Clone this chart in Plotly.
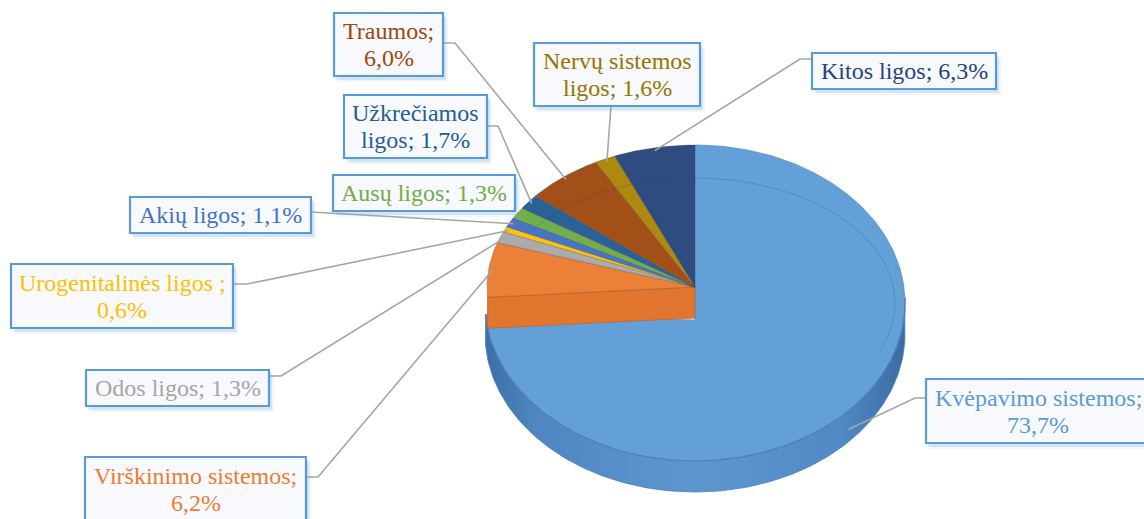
import math
import plotly.graph_objects as go

# ---------------- data ----------------
categories = ["Kvėpavimo sistemos", "Virškinimo sistemos", "Odos ligos",
              "Urogenitalinės ligos ", "Akių ligos", "Ausų ligos",
              "Užkrečiamos ligos", "Traumos", "Nervų sistemos ligos", "Kitos ligos"]
shares = [73.7, 6.2, 1.3, 0.6, 1.1, 1.3, 1.7, 6.0, 1.6, 6.3]
label_lines = [
    ["Kvėpavimo sistemos;", "{p}"],
    ["Virškinimo sistemos;", "{p}"],
    ["Odos ligos; {p}"],
    ["Urogenitalinės ligos ;", "{p}"],
    ["Akių ligos; {p}"],
    ["Ausų ligos; {p}"],
    ["Užkrečiamos", "ligos; {p}"],
    ["Traumos;", "{p}"],
    ["Nervų sistemos", "ligos; {p}"],
    ["Kitos ligos; {p}"],
]

# ---------------- styles ----------------
slice_colors = ["#64A0D8", "#EC8037", "#ABABAB", "#FFC20E", "#4775C6", "#72AE4B",
                "#2A6298", "#A24F18", "#AE8910", "#2F4C80"]
text_colors = ["#5B9BD5", "#ED7D31", "#A5A5A5", "#FFC000", "#4472C4", "#70AD47",
               "#255E91", "#9E480E", "#997300", "#264478"]
FONT = "Liberation Serif, Times New Roman, serif"
FS = 24
LINE_GAP = 27

# label box geometry (pixels): x0, y0, x1, y1
boxes = [(926, 379, 1150, 443), (85, 457, 306, 521), (86, 370, 269, 406),
         (11, 264, 233, 328), (130, 197, 311, 233), (333, 175, 515, 211),
         (344, 95, 487, 158), (334, 13, 443, 76), (534, 43, 700, 106),
         (812, 53, 996, 89)]
leader_start = [[(926, 398), (915, 398)], [(306, 477), (318, 477)],
                [(269, 376), (281, 376)], [(233, 284), (247, 284)],
                [(311, 212)], None, [(487, 126), (498, 126)],
                [(443, 43), (455, 43)], [(611, 106)], [(812, 59), (800, 59)]]

# pie projection
FRONT_C, FRONT_RX, FRONT_RY = (695, 303), 210, 158
FRONT_APEX = (695, 320)
BACK_C, BACK_RX, BACK_RY = (695, 287), 208, 142
DEPTH = 31

W, H = 1144, 519


def ell(c, rx, ry, th, dy=0.0, k=1.0):
    t = math.radians(th)
    return (c[0] + k * rx * math.sin(t), c[1] - k * ry * math.cos(t) + dy)


def arc(c, rx, ry, a, b, dy=0.0, k=1.0):
    n = max(4, int(abs(b - a) / 1.0))
    return [ell(c, rx, ry, a + (b - a) * i / n, dy, k) for i in range(n + 1)]


def poly(pts, fill, line="rgba(0,0,0,0)", lw=0.0, **kw):
    xs = [p[0] for p in pts] + [pts[0][0]]
    ys = [p[1] for p in pts] + [pts[0][1]]
    return go.Scatter(x=xs, y=ys, mode="lines", fill="toself", fillcolor=fill,
                      line=dict(color=line, width=lw), hoverinfo="skip", **kw)


tot = sum(shares)
spans = []
acc = 0.0
for v in shares:
    b = acc + 360.0 * v / tot
    spans.append((acc, b))
    acc = b

fig = go.Figure()

# ---- main (front) slice: wall then top ----
a0, b0 = spans[0]
wall_top = arc(FRONT_C, FRONT_RX, FRONT_RY, 88, b0)
wall_bot = arc(FRONT_C, FRONT_RX, FRONT_RY, b0, 88, dy=DEPTH)
fig.add_trace(go.Scatter(
    x=[p[0] for p in wall_top + wall_bot] + [wall_top[0][0]],
    y=[p[1] for p in wall_top + wall_bot] + [wall_top[0][1]],
    mode="lines", fill="toself",
    fillgradient=dict(type="horizontal",
                      colorscale=[[0, "#3E6EA6"], [0.12, "#4F86C2"], [0.5, "#5E97D0"],
                                  [0.85, "#5089C5"], [1, "#3C6BA3"]]),
    line=dict(color="#4A7DB6", width=0.8), hoverinfo="skip"))
top_pts = [FRONT_APEX] + arc(FRONT_C, FRONT_RX, FRONT_RY, a0, b0)
fig.add_trace(poly(top_pts, slice_colors[0], "#5A91CA", 0.8))
# top/wall edge line
edge = arc(FRONT_C, FRONT_RX, FRONT_RY, 88, b0)
fig.add_trace(go.Scatter(x=[p[0] for p in edge], y=[p[1] for p in edge], mode="lines",
                         line=dict(color="#4C80BA", width=1.2), hoverinfo="skip"))

# ---- cut face of second slice (visible under its top) ----
a1, b1 = spans[1]
r1 = ell(BACK_C, BACK_RX, BACK_RY, a1)
face = [BACK_C, r1, (r1[0], r1[1] + DEPTH), (BACK_C[0], BACK_C[1] + DEPTH)]
fig.add_trace(poly(face, "#E2762F", "#C8652A", 0.8))

# ---- back slices tops ----
for i in range(1, len(shares)):
    a, b = spans[i]
    pts = [BACK_C] + arc(BACK_C, BACK_RX, BACK_RY, a, b)
    fig.add_trace(poly(pts, slice_colors[i], "rgba(60,60,60,0.45)", 0.6))

# faint bevel ring
bev = arc(FRONT_C, 200, 125, 306, 472)
fig.add_trace(go.Scatter(x=[p[0] for p in bev], y=[p[1] for p in bev], mode="lines",
                         line=dict(color="rgba(30,60,110,0.22)", width=1), hoverinfo="skip"))

# ---- leader lines ----
for i in range(len(shares)):
    if leader_start[i] is None:
        continue
    a, b = spans[i]
    mid = (a + b) / 2
    if i == 0:
        end = ell(FRONT_C, FRONT_RX, FRONT_RY, mid, dy=DEPTH * 0.6, k=1.0)
    else:
        end = ell(BACK_C, BACK_RX, BACK_RY, mid, k=0.98)
    pts = leader_start[i] + [end]
    fig.add_trace(go.Scatter(x=[p[0] for p in pts], y=[p[1] for p in pts], mode="lines",
                             line=dict(color="#A6A6A6", width=1.6), hoverinfo="skip"))

# ---- label boxes & texts ----
shapes = []
annotations = []
for i, (x0, y0, x1, y1) in enumerate(boxes):
    shapes.append(dict(type="rect", xref="x", yref="y", x0=x0 + 4, y0=y0 + 5, x1=x1 + 5, y1=y1 + 6,
                       fillcolor="rgba(91,155,213,0.10)", line=dict(width=0)))
    shapes.append(dict(type="rect", xref="x", yref="y", x0=x0 + 2, y0=y0 + 3, x1=x1 + 3, y1=y1 + 4,
                       fillcolor="rgba(91,155,213,0.18)", line=dict(width=0)))
    shapes.append(dict(type="rect", xref="x", yref="y", x0=x0, y0=y0, x1=x1, y1=y1,
                       fillcolor="#F7F9FD", line=dict(color="#5B9BD5", width=2.2)))
    pct = f"{shares[i]:.1f}".replace(".", ",") + "%"
    lines = [s.format(p=pct) for s in label_lines[i]]
    cx = (x0 + x1) / 2
    cy = (y0 + y1) / 2
    n = len(lines)
    for j, t in enumerate(lines):
        yy = cy + (j - (n - 1) / 2) * LINE_GAP
        annotations.append(dict(x=cx, y=yy, xref="x", yref="y", text=t, showarrow=False,
                                xanchor="center", yanchor="middle",
                                font=dict(family=FONT, size=FS, color=text_colors[i])))

fig.update_layout(
    width=W, height=H, autosize=False,
    margin=dict(l=0, r=0, t=0, b=0),
    paper_bgcolor="white", plot_bgcolor="white",
    showlegend=False,
    xaxis=dict(range=[0, W], visible=False, fixedrange=True),
    yaxis=dict(range=[H, 0], visible=False, fixedrange=True),
    shapes=shapes, annotations=annotations,
)

fig.write_html("out.html", config={"displayModeBar": False},
               post_script="document.body.style.margin='0';document.body.style.overflow='hidden';")
